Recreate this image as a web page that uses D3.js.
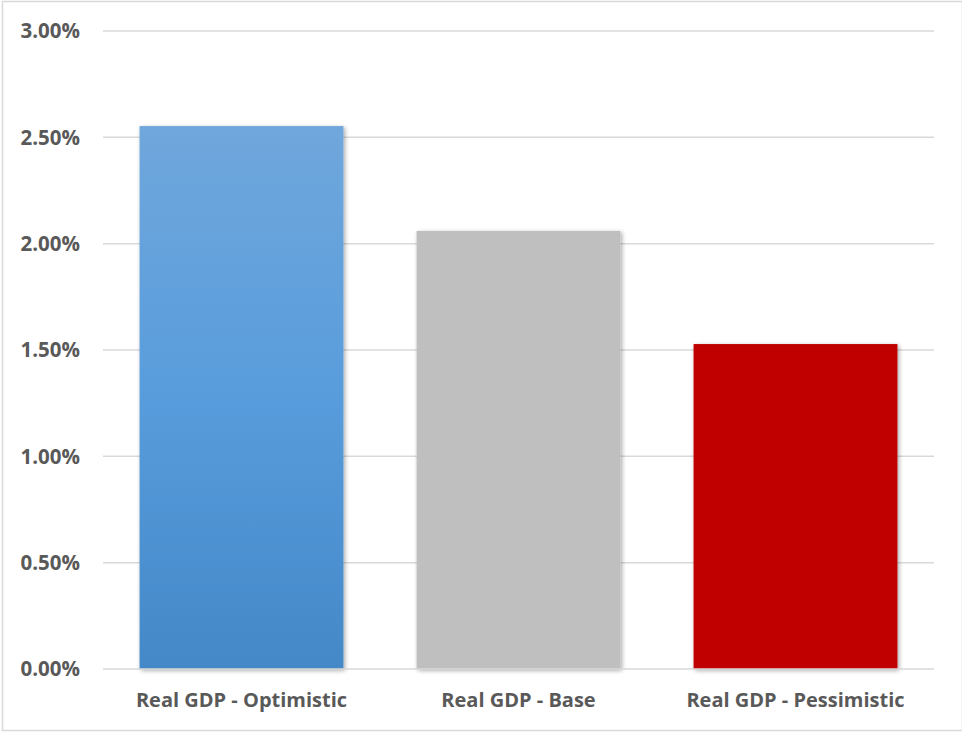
<!DOCTYPE html>
<html><head><meta charset="utf-8">
<script src="https://cdn.jsdelivr.net/npm/d3@7"></script>
<style>body{margin:0;background:#fff}svg{display:block}</style>
</head><body>
<script>
const categories = ["Real GDP - Optimistic", "Real GDP - Base", "Real GDP - Pessimistic"];
const values = [0.02553, 0.0206, 0.01528];
const colors = ["url(#gradBlue)", "#BFBFBF", "#C00000"];
const yTicks = [0, 0.005, 0.01, 0.015, 0.02, 0.025, 0.03];

const W = 962, H = 732;
const svg = d3.select("body").append("svg").attr("width", W).attr("height", H);
const defs = svg.append("defs");
const g1 = defs.append("linearGradient").attr("id","gradBlue").attr("x1",0).attr("y1",0).attr("x2",0).attr("y2",1);
g1.append("stop").attr("offset","0%").attr("stop-color","#70A7DC");
g1.append("stop").attr("offset","50%").attr("stop-color","#589CDC");
g1.append("stop").attr("offset","100%").attr("stop-color","#4488C8");
const f = defs.append("filter").attr("id","shadow").attr("x","-10%").attr("y","-10%").attr("width","120%").attr("height","120%");
f.append("feDropShadow").attr("dx",1.5).attr("dy",1.5).attr("stdDeviation",2).attr("flood-color","#000").attr("flood-opacity",0.35);

svg.append("rect").attr("x",2.5).attr("y",1.5).attr("width",W-2).attr("height",H-3)
  .attr("fill","#fff").attr("stroke","#D9D9D9").attr("stroke-width",1.5);

const x = d3.scaleBand().domain(categories).range([103, 934]).paddingInner(0.264).paddingOuter(0.132);
const y = d3.scaleLinear().domain([0, 0.03]).range([669, 31]);

const grid = svg.append("g");
grid.selectAll("line").data(yTicks.filter(d=>d>0)).join("line")
  .attr("x1",103).attr("x2",934).attr("y1",d=>y(d)).attr("y2",d=>y(d))
  .attr("stroke","#D9D9D9").attr("stroke-width",1.5);

svg.append("g").selectAll("text").data(yTicks).join("text")
  .attr("x",80).attr("y",d=>y(d)).attr("dy","0.36em").attr("text-anchor","end")
  .attr("font-family","'Open Sans', sans-serif").attr("font-weight","bold").attr("font-size",20.5)
  .attr("fill","#595959").text(d=>d3.format(".2%")(d));

svg.append("g").selectAll("rect").data(values).join("rect")
  .attr("x",(d,i)=>x(categories[i])).attr("width",x.bandwidth())
  .attr("y",d=>y(d)).attr("height",d=>y(0)-y(d))
  .attr("fill",(d,i)=>colors[i]).attr("filter","url(#shadow)");

svg.append("line").attr("x1",103).attr("x2",934).attr("y1",y(0)).attr("y2",y(0))
  .attr("stroke","#D9D9D9").attr("stroke-width",1.5);

svg.append("g").selectAll("text").data(categories).join("text")
  .attr("x",d=>x(d)+x.bandwidth()/2).attr("y",707).attr("text-anchor","middle")
  .attr("font-family","'Open Sans', sans-serif").attr("font-weight","bold").attr("font-size",20)
  .attr("fill","#595959").text(d=>d);
</script>
</body></html>
